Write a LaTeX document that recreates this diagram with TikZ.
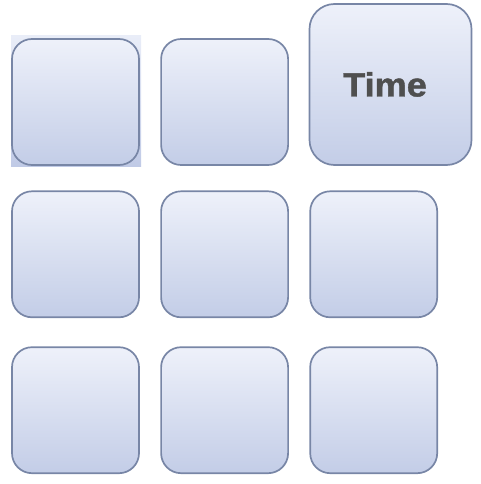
\documentclass[tikz,border=0pt]{standalone}
\usepackage{fontspec}
\newfontfamily\tilefont[FakeBold=1.2]{Liberation Sans Bold}
\usetikzlibrary{positioning}

\definecolor{tiletop}{HTML}{EEF1FA}
\definecolor{tilebottom}{HTML}{C3CDE7}
\definecolor{tileedge}{HTML}{7886A6}
\definecolor{backtop}{HTML}{E9EDF8}
\definecolor{backbottom}{HTML}{C0CAE6}
\definecolor{timetext}{HTML}{4F4F4F}

\begin{document}
\begin{tikzpicture}[
  x=1pt, y=1pt,
  tile/.style  = {draw=tileedge, line width=1.7pt, rounded corners=20pt,
                  top color=tiletop, bottom color=tilebottom,
                  minimum width=127pt, minimum height=126pt, inner sep=0pt},
  big/.style   = {tile, rounded corners=25pt, minimum width=162pt, minimum height=161pt},
  back/.style  = {top color=backtop, bottom color=backbottom,
                  minimum width=130pt, minimum height=130pt, inner sep=0pt},
]
  \useasboundingbox (0,0) rectangle (481,-484);

  % light panel behind the first tile
  \node[back] (tback) at (76,-101) {};

  % first row
  \node[tile] (tA) at (75.5,-102) {};
  \node[tile, right=20.4pt of tA] (tB) {};
  \node[big]  (tTime) at (390.5,-84.5)
    {\tilefont\fontsize{33.5}{33.5}\selectfont\color{timetext}%
     \scalebox{1.08}[1]{Time}\hspace*{11pt}};

  % second and third rows
  \node[tile, below=24.6pt of tA] (tD) {};
  \node[tile, right=20.4pt of tD] (tE) {};
  \node[tile, right=20.4pt of tE] (tF) {};
  \node[tile, below=28.2pt of tD] (tG) {};
  \node[tile, right=20.4pt of tG] (tH) {};
  \node[tile, right=20.4pt of tH] (tI) {};
\end{tikzpicture}
\end{document}
